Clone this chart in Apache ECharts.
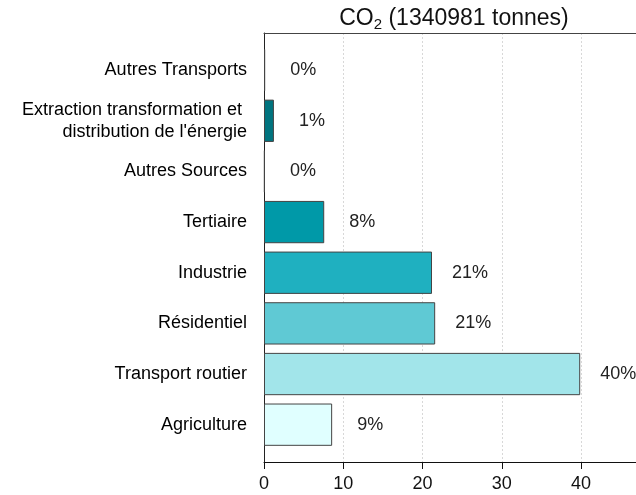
<!DOCTYPE html>
<html>
<head>
<meta charset="utf-8">
<script src="https://cdn.jsdelivr.net/npm/echarts@6/dist/echarts.min.js"></script>
<style>html,body{margin:0;padding:0;background:#fff}#c{width:636px;height:495px}</style>
</head>
<body>
<div id="c"></div>
<script>
const categories = ['Agriculture', 'Transport routier', 'Résidentiel', 'Industrie', 'Tertiaire', 'Autres Sources', 'Extraction transformation et \ndistribution de l\'énergie', 'Autres Transports'];
const values = [8.6, 39.9, 21.6, 21.2, 7.6, 0.1, 1.25, 0.15];
const pctLabels = ['9%', '40%', '21%', '21%', '8%', '0%', '1%', '0%'];
const colors = ['#E0FFFF', '#A2E5EA', '#5FC9D4', '#1FB0C0', '#0099A8', '#00888F', '#00747F', '#006570'];
const xTicks = [0, 10, 20, 30, 40, 50];

const chart = echarts.init(document.getElementById('c'), null, {renderer: 'canvas'});
const FONT = 'Liberation Sans, Arial, sans-serif';
chart.setOption({
  animation: false,
  title: {
    text: '{a|CO}{b|2}{a| (1340981 tonnes)}',
    left: 449, top: 0, textAlign: 'center',
    textStyle: {
      fontWeight: 'normal',
      rich: {
        a: {fontFamily: FONT, fontSize: 23, fontWeight: 'normal', color: '#111', lineHeight: 27},
        b: {fontFamily: FONT, fontSize: 15, fontWeight: 'normal', color: '#111', padding: [12, 0, 0, 0]}
      }
    }
  },
  grid: [
    {left: 264, width: 396.25, top: 33, height: 429, outerBoundsMode: 'none', containLabel: false},
    {left: 264, width: 396.25, top: 44.8, height: 405.2, outerBoundsMode: 'none', containLabel: false}
  ],
  xAxis: [
    {
      gridIndex: 0, type: 'value', min: xTicks[0], max: xTicks[xTicks.length - 1], interval: 10,
      axisLine: {show: true, lineStyle: {color: '#111', width: 1}},
      axisTick: {show: true, length: 7, lineStyle: {color: '#111'}},
      axisLabel: {fontFamily: FONT, fontSize: 18, color: '#111', margin: 13},
      splitLine: {show: true, lineStyle: {color: '#d8d8d8', type: [2, 2], width: 1}}
    },
    {
      gridIndex: 0, type: 'value', position: 'top', min: 0, max: 50,
      axisLine: {show: true, lineStyle: {color: '#444', width: 1}},
      axisTick: {show: false}, axisLabel: {show: false}, splitLine: {show: false}
    },
    {
      gridIndex: 1, type: 'value', min: 0, max: 50, show: false
    }
  ],
  yAxis: [
    {
      gridIndex: 0, type: 'value', min: 0, max: 1,
      axisLine: {show: true, lineStyle: {color: '#222', width: 1}},
      axisTick: {show: false}, axisLabel: {show: false}, splitLine: {show: false}
    },
    {
      gridIndex: 1, type: 'category', data: categories,
      axisLine: {show: false}, axisTick: {show: false}, splitLine: {show: false},
      axisLabel: {fontFamily: FONT, fontSize: 18, color: '#000', margin: 17, lineHeight: 21.7, align: 'right', padding: [2, 0, 0, 0]}
    }
  ],
  series: [{
    type: 'bar', xAxisIndex: 2, yAxisIndex: 1,
    barWidth: 42.3,
    data: values.map((v, i) => ({value: v, itemStyle: {color: colors[i]}})),
    itemStyle: {borderColor: '#444', borderWidth: 1},
    label: {
      show: true, position: 'right', distance: 38, align: 'center',
      fontFamily: FONT, fontSize: 18, color: '#222', padding: [2, 0, 0, 0],
      formatter: p => pctLabels[p.dataIndex]
    }
  }]
});
</script>
</body>
</html>
